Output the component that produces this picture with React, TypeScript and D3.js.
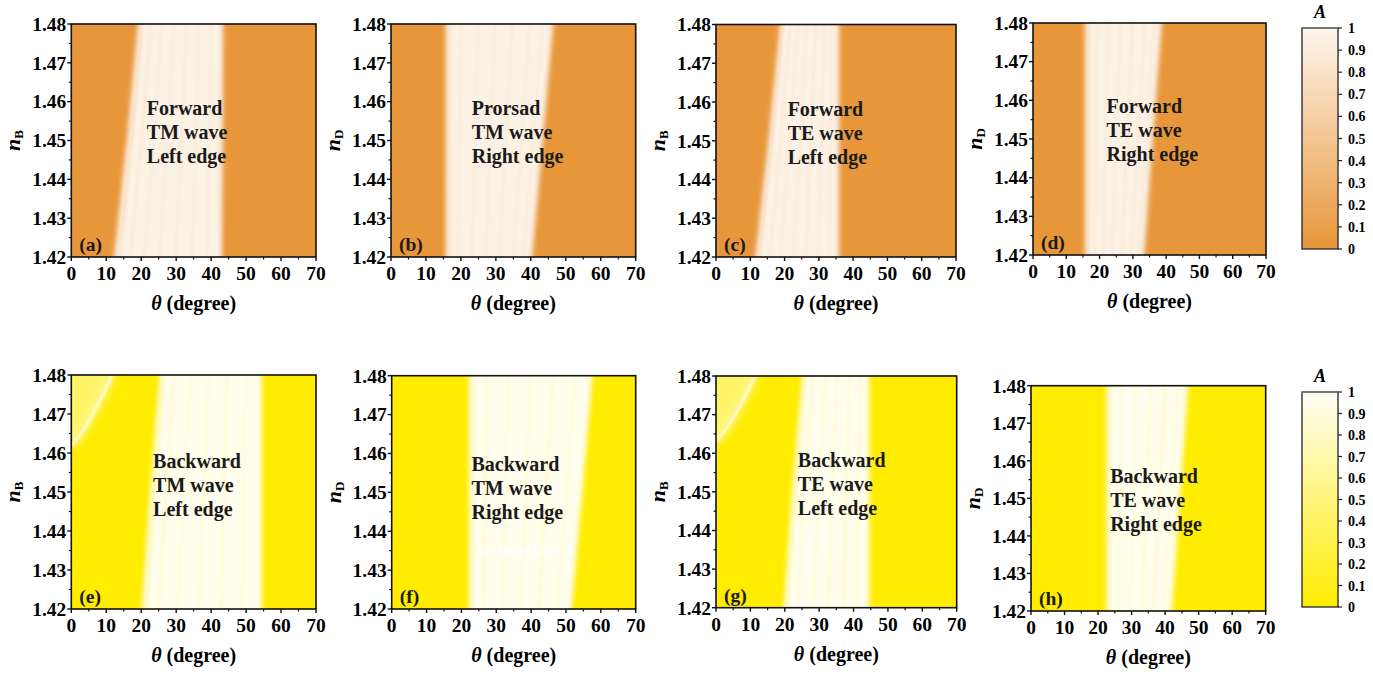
import React from "react";
import * as d3 from "d3";

// axis ticks
const thetaTicks = [0, 10, 20, 30, 40, 50, 60, 70];
const thetaMinor = [5, 15, 25, 35, 45, 55, 65];
const nTicks = [1.42, 1.43, 1.44, 1.45, 1.46, 1.47, 1.48];
const nMinor = [1.425, 1.435, 1.445, 1.455, 1.465, 1.475];
const cbTicks = [0, 0.1, 0.2, 0.3, 0.4, 0.5, 0.6, 0.7, 0.8, 0.9, 1];

// panel texts
const tags = ["(a)", "(b)", "(c)", "(d)", "(e)", "(f)", "(g)", "(h)"];
const directions = ["Forward", "Prorsad", "Forward", "Forward", "Backward", "Backward", "Backward", "Backward"];
const waves = ["TM wave", "TM wave", "TE wave", "TE wave", "TM wave", "TM wave", "TE wave", "TE wave"];
const edgeNames = ["Left edge", "Right edge", "Left edge", "Right edge", "Left edge", "Right edge", "Left edge", "Right edge"];
const yVars = ["B", "D", "B", "D", "B", "D", "B", "D"];
const labelTheta = [21.6, 23.1, 20.9, 22.1, 23.4, 22.9, 23.8, 23.6];
const labelN = [1.4566, 1.4566, 1.4564, 1.4567, 1.4562, 1.4556, 1.4564, 1.4541];

// high-absorption band: edge angle (deg) at n = 1.42, 1.45, 1.48
const nKnots = [1.42, 1.45, 1.48];
const leftEdge = [
  [12.3, 15.9, 19.1], [15.7, 15.7, 15.7], [11.5, 15.3, 18.7], [15.7, 15.7, 15.7],
  [20.2, 22.6, 25.3], [22.2, 22.2, 22.2], [19.7, 22.2, 25.1], [22.6, 22.6, 22.6],
];
const rightEdge = [
  [43.1, 43.3, 43.4], [40.4, 43.4, 46.4], [35.9, 35.9, 35.9], [33.4, 36.0, 38.7],
  [54.5, 54.5, 54.5], [51.6, 54.7, 57.6], [44.6, 44.6, 44.6], [42.0, 44.4, 46.9],
];
// faint stripes inside the band: [fraction across band, A]
const stripes = [
  [[0.05, 0.72], [0.15, 0.84], [0.28, 0.86], [0.42, 0.88], [0.57, 0.86], [0.72, 0.88], [0.86, 0.86]],
  [[0.04, 0.75], [0.14, 0.85], [0.3, 0.88], [0.46, 0.86], [0.62, 0.88], [0.78, 0.86], [0.9, 0.88]],
  [[0.05, 0.72], [0.17, 0.84], [0.3, 0.86], [0.45, 0.86], [0.6, 0.84], [0.75, 0.86], [0.88, 0.87]],
  [[0.05, 0.75], [0.16, 0.85], [0.3, 0.86], [0.46, 0.86], [0.62, 0.84], [0.78, 0.86], [0.9, 0.87]],
  [[0.04, 0.62], [0.14, 0.82], [0.3, 0.85], [0.48, 0.85], [0.66, 0.83], [0.84, 0.85]],
  [[0.04, 0.78], [0.14, 0.82], [0.32, 0.85], [0.5, 0.85], [0.68, 0.83], [0.86, 0.85]],
  [[0.04, 0.62], [0.16, 0.82], [0.34, 0.85], [0.52, 0.83], [0.7, 0.8], [0.86, 0.83]],
  [[0.05, 0.78], [0.18, 0.82], [0.36, 0.85], [0.54, 0.83], [0.72, 0.8], [0.88, 0.85]],
];
// curved feature in the top-left corner of (e) and (g)
const arcPanels = [4, 6];
const arcTheta = [[0, 3.5, 7.3, 10.2, 11.6], [0, 3.0, 6.9, 9.8, 11.3]];
const arcN = [[1.4618, 1.4659, 1.4719, 1.477, 1.48], [1.4631, 1.4664, 1.4721, 1.4772, 1.48]];

// layout
const layout = [
  { x0: 71.3, x1: 316, y0: 24, y1: 257 },
  { x0: 391, x1: 635.7, y0: 24, y1: 257 },
  { x0: 716, x1: 956, y0: 24.5, y1: 257 },
  { x0: 1033, x1: 1266, y0: 23, y1: 255 },
  { x0: 71.3, x1: 316, y0: 375, y1: 609 },
  { x0: 391.7, x1: 635.7, y0: 375.7, y1: 609 },
  { x0: 716, x1: 956.7, y0: 376, y1: 607.7 },
  { x0: 1031, x1: 1265.7, y0: 385.7, y1: 611 },
];
const cbLayout = [
  { x0: 1302, x1: 1338, y0: 28, y1: 249 },
  { x0: 1302, x1: 1338, y0: 392, y1: 607 },
];

const FONT = "'Liberation Serif', 'Times New Roman', serif";
const orange = d3.interpolateRgb("#E8963A", "#FDF5EC");
const yellow = d3.interpolateRgb("#FFEC00", "#FFFEF6");
const nSamples = d3.range(1.412, 1.489, 0.002);

function Panel({ i }: { i: number }) {
  const L = layout[i];
  const x = d3.scaleLinear().domain([0, 70]).range([L.x0, L.x1]);
  const y = d3.scaleLinear().domain([1.42, 1.48]).range([L.y1, L.y0]);
  const color = i < 4 ? orange : yellow;
  const lS = d3.scaleLinear().domain(nKnots).range(leftEdge[i]);
  const rS = d3.scaleLinear().domain(nKnots).range(rightEdge[i]);
  const band = d3
    .area<number>()
    .y((n) => y(n))
    .x0((n) => x(lS(n)))
    .x1((n) => x(rS(n)))(nSamples) as string;
  const stripeLine = (f: number) =>
    d3
      .line<number>()
      .x((n) => x(lS(n) + f * (rS(n) - lS(n))))
      .y((n) => y(n))(nSamples) as string;

  const ai = arcPanels.indexOf(i);
  let arcPath = "";
  let arcRegion = "";
  if (ai >= 0) {
    const pts: [number, number][] = arcTheta[ai].map((t, k) => [x(t), y(arcN[ai][k])]);
    arcPath = d3.line().curve(d3.curveCatmullRom)(pts) as string;
    const reg: [number, number][] = [[x(-3), y(arcN[ai][0])], ...pts, [x(arcTheta[ai][4] + 0.6), y(1.49)], [x(-3), y(1.49)]];
    arcRegion = d3.line().curve(d3.curveCatmullRom)(reg) as string;
  }

  const cx = (L.x0 + L.x1) / 2;
  const cy = (L.y0 + L.y1) / 2;
  return (
    <g>
      <defs>
        <clipPath id={`clip${i}`}>
          <rect x={L.x0} y={L.y0} width={L.x1 - L.x0} height={L.y1 - L.y0} />
        </clipPath>
      </defs>
      <g clipPath={`url(#clip${i})`}>
        <rect x={L.x0} y={L.y0} width={L.x1 - L.x0} height={L.y1 - L.y0} fill={color(0)} />
        {ai >= 0 && (
          <g filter="url(#blurWide)">
            <path d={arcRegion} fill={color(0.42)} />
            <path d={arcPath} fill="none" stroke={color(0.6)} strokeWidth={7} />
          </g>
        )}
        {ai >= 0 && <path d={arcPath} fill="none" stroke={color(0.95)} strokeWidth={2.2} filter="url(#blurThin)" />}
        <path d={band} fill={color(0.96)} filter="url(#blurEdge)" />
        <g filter="url(#blurThin)">
          {stripes[i].map(([f, a], k) => (
            <path key={k} d={stripeLine(f)} fill="none" stroke={color(a)} strokeWidth={2.2} opacity={0.75} />
          ))}
        </g>
      </g>
      <rect x={L.x0} y={L.y0} width={L.x1 - L.x0} height={L.y1 - L.y0} fill="none" stroke="#111" strokeWidth={1.6} />
      {/* x axis */}
      {thetaTicks.map((t) => (
        <g key={t}>
          <line x1={x(t)} x2={x(t)} y1={L.y1} y2={L.y1 + 4} stroke="#111" strokeWidth={1.4} />
          <text x={x(t)} y={L.y1 + 23} textAnchor="middle" fontSize={19.5}>{t}</text>
        </g>
      ))}
      {thetaMinor.map((t) => (
        <line key={t} x1={x(t)} x2={x(t)} y1={L.y1} y2={L.y1 + 2.5} stroke="#111" strokeWidth={1.2} />
      ))}
      {/* y axis */}
      {nTicks.map((n) => (
        <g key={n}>
          <line x1={L.x0 - 4} x2={L.x0} y1={y(n)} y2={y(n)} stroke="#111" strokeWidth={1.4} />
          <text x={L.x0 - 5} y={y(n) + 6.8} textAnchor="end" fontSize={19.5}>{d3.format(".2f")(n)}</text>
        </g>
      ))}
      {nMinor.map((n) => (
        <line key={n} x1={L.x0 - 2.5} x2={L.x0} y1={y(n)} y2={y(n)} stroke="#111" strokeWidth={1.2} />
      ))}
      <text x={cx} y={L.y1 + 53} textAnchor="middle" fontSize={20}>
        <tspan fontStyle="italic">θ</tspan> (degree)
      </text>
      <text transform={`translate(${L.x0 - 51},${cy}) rotate(-90)`} textAnchor="middle" fontSize={22}>
        <tspan fontStyle="italic">n</tspan>
        <tspan fontSize={13} dy={3}>{yVars[i]}</tspan>
      </text>
      {/* annotations */}
      {[directions[i], waves[i], edgeNames[i]].map((s, k) => (
        <text key={k} x={x(labelTheta[i])} y={y(labelN[i]) + k * 24} fontSize={20} fill="#1a1a1a">{s}</text>
      ))}
      <text x={L.x0 + 8} y={L.y1 - 6} fontSize={19.5} fill="#1a1a1a">{tags[i]}</text>
      {i === 5 && (
        <text x={x(24.5)} y={y(1.4339)} fontSize={17} fill="#ffffff" opacity={0.9}>In interface 1</text>
      )}
    </g>
  );
}

function ColorBar({ k }: { k: number }) {
  const C = cbLayout[k];
  const color = k === 0 ? orange : yellow;
  const s = d3.scaleLinear().domain([0, 1]).range([C.y1, C.y0]);
  return (
    <g>
      <defs>
        <linearGradient id={`cb${k}`} x1="0" y1="1" x2="0" y2="0">
          {cbTicks.map((t) => (
            <stop key={t} offset={`${t * 100}%`} stopColor={color(t)} />
          ))}
        </linearGradient>
      </defs>
      <rect x={C.x0} y={C.y0} width={C.x1 - C.x0} height={C.y1 - C.y0} fill={`url(#cb${k})`} stroke="#222" strokeWidth={1.3} />
      <line x1={C.x0} x2={C.x1} y1={C.y0} y2={C.y0} stroke="#777" strokeWidth={1.6} />
      {cbTicks.map((t) => (
        <g key={t}>
          <line x1={C.x1} x2={C.x1 + 4} y1={s(t)} y2={s(t)} stroke="#222" strokeWidth={1.2} />
          <text x={C.x1 + 10} y={s(t) + 5} fontSize={14}>{d3.format("~g")(t)}</text>
        </g>
      ))}
      <text x={(C.x0 + C.x1) / 2} y={C.y0 - 10} textAnchor="middle" fontSize={18} fontStyle="italic">A</text>
    </g>
  );
}

export default function App() {
  return (
    <svg
      width={1373}
      height={676}
      style={{ position: "absolute", left: 0, top: 0, background: "#fff" }}
      fontFamily={FONT}
      fontWeight="bold"
    >
      <defs>
        <filter id="blurEdge" x="-20%" y="-20%" width="140%" height="140%">
          <feGaussianBlur stdDeviation="2.6 0.5" />
        </filter>
        <filter id="blurThin" x="-20%" y="-20%" width="140%" height="140%">
          <feGaussianBlur stdDeviation="1.1" />
        </filter>
        <filter id="blurWide" x="-50%" y="-50%" width="200%" height="200%">
          <feGaussianBlur stdDeviation="4" />
        </filter>
      </defs>
      <rect width={1373} height={676} fill="#fff" />
      {layout.map((_, i) => (
        <Panel key={i} i={i} />
      ))}
      <ColorBar k={0} />
      <ColorBar k={1} />
    </svg>
  );
}
